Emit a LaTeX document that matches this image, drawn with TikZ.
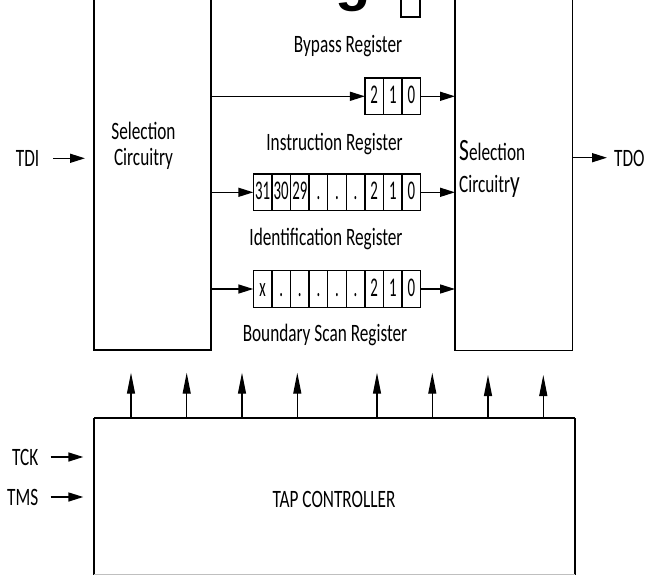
\documentclass[tikz,border=0pt]{standalone}
\usepackage{fontspec}
\setmainfont[FakeStretch=0.69]{Carlito}
\newfontfamily\cellfont[FakeStretch=0.55]{Carlito}
\newfontfamily\titlefont{Liberation Sans}
\usetikzlibrary{arrows.meta}
\begin{document}
\begin{tikzpicture}[x=1pt,y=-1pt,
  lbl/.style={font=\fontsize{25}{28}\selectfont, inner sep=0pt, anchor=base},
  cell/.style={draw, line width=1.3pt, minimum width=18.6pt, minimum height=36.5pt,
    inner sep=0pt, outer sep=0pt, text height=17pt, text depth=3pt,
    font=\cellfont\fontsize{27}{30}\selectfont},
  blk/.style={draw, line width=1.3pt, inner sep=0pt, outer sep=0pt},
  arr/.style={-{Triangle[length=15pt,width=9pt]}, line width=1.5pt},
  uparr/.style={-{Triangle[length=21pt,width=8pt]}, line width=1.2pt}]
\useasboundingbox (0,0) rectangle (647,575);
\clip (0,0) rectangle (647,575);

% cropped fragments at the top
\node[inner sep=0pt, anchor=base, font=\titlefont\bfseries\fontsize{58}{60}\selectfont] (gfrag) at (353,0) {g};
\draw[line width=1.2pt] (401,-5) rectangle (420,17);

% selection circuitry boxes
\node[blk, minimum width=117pt, minimum height=380pt] (selL) at (152.5,160) {};
\node[blk, minimum width=117.5pt, minimum height=380.5pt] (selR) at (513.75,160.25) {};

\node[lbl] (selL1) at (143.5,139.3) {Selection};
\node[lbl] (selL2) at (143.5,165) {Circuitry};
\node[lbl, anchor=base west] (selR1) at (459,160) {{\fontsize{31}{32}\selectfont S}election};
\node[lbl, anchor=base west] (selR2) at (459,192.7) {Circuitr{\fontsize{31}{32}\selectfont y}};

% register labels
\node[lbl] (lbyp) at (348,53) {Bypass Register};
\node[lbl] (lins) at (334.5,150) {Instruction Register};
\node[lbl] (lid) at (326,245.7) {Identification Register};
\node[lbl] (lbsr) at (325,341.7) {Boundary Scan Register};

% bypass register
\foreach \t [count=\i] in {2,1,0}
  \node[cell] (b\i) at ({364.9+(\i-0.5)*18.6},96.3) {\t};
% instruction register
\foreach \t [count=\i] in {31,30,29,.,.,.,2,1,0}
  \node[cell] (r\i) at ({253.3+(\i-0.5)*18.6},192.3) {\t};
% identification register
\foreach \t [count=\i] in {x,.,.,.,.,.,2,1,0}
  \node[cell] (d\i) at ({253.3+(\i-0.5)*18.6},289) {\t};

% register connectors
\draw[arr] (selL.east |- b1.west) -- (b1.west);
\draw[arr] (b3.east) -- (selR.west |- b3.east);
\draw[arr] (selL.east |- r1.west) -- (r1.west);
\draw[arr] (r9.east) -- (selR.west |- r9.east);
\draw[arr] (selL.east |- d1.west) -- (d1.west);
\draw[arr] (d9.east) -- (selR.west |- d9.east);

% TDI / TDO
\node[lbl, anchor=base east] (tdi) at (39.5,166) {TDI};
\coordinate (tdiA) at (53,158.3);
\coordinate (tdiB) at (85,158.3);
\draw[arr] (tdiA) -- (tdiB);
\node[lbl, anchor=base west] (tdo) at (614,166.7) {TDO};
\coordinate (tdoB) at (607,157.7);
\draw[arr] (selR.east |- tdoB) -- (tdoB);

% TAP controller
\node[inner sep=0pt, outer sep=0pt, minimum width=481pt, minimum height=156.5pt] (tap) at (334.5,496.25) {};
\draw[line width=1.3pt] (tap.south west) -- (tap.north west);
\draw[line width=1.3pt] (tap.north east) -- (tap.south east);
\draw[line width=2pt] (tap.north west) -- (tap.north east);
\draw[black!25, line width=0.8pt] (tap.south west) -- (tap.south east);
\node[lbl] (taplbl) at (334,507) {TAP CONTROLLER};

\node[lbl, anchor=base east] (tck) at (38.5,465) {TCK};
\coordinate (tckA) at (50.7,457);
\coordinate (tckB) at (83.3,457);
\draw[arr] (tckA) -- (tckB);
\node[lbl, anchor=base east] (tms) at (38.5,505) {TMS};
\coordinate (tmsA) at (50.7,497);
\coordinate (tmsB) at (83.3,497);
\draw[arr] (tmsA) -- (tmsB);

% control arrows up from the TAP controller
\foreach \x/\y [count=\k] in {131/372.7,186.7/372.7,242/372.7,297.3/372.7,377/372.7,432.3/372.7,488/375,543.3/375} {
  \coordinate (up\k) at (\x,\y);
  \draw[uparr] (tap.north -| up\k) -- (up\k);
}
\end{tikzpicture}
\end{document}
